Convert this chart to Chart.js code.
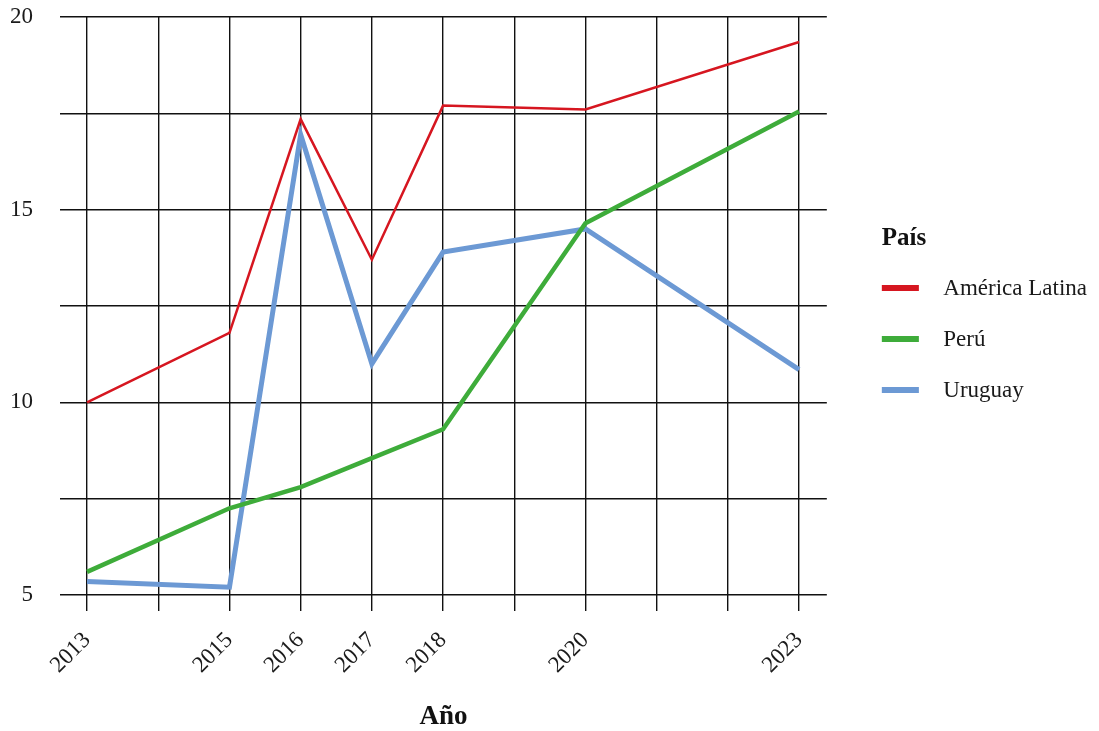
<!DOCTYPE html>
<html>
<head>
<meta charset="utf-8">
<script src="https://cdn.jsdelivr.net/npm/chart.js@4/dist/chart.umd.min.js"></script>
<style>
  html, body { margin: 0; padding: 0; background: #fff; }
  #wrap { width: 1099px; height: 731px; }
</style>
</head>
<body>
<div id="wrap"><canvas id="lineChart"></canvas></div>
<script>
const years = [2013, 2015, 2016, 2017, 2018, 2020, 2023];
const americaLatina = [10.0, 11.8, 17.35, 13.7, 17.7, 17.6, 19.35];
const peru = [5.6, 7.25, 7.8, 8.55, 9.3, 14.65, 17.55];
const uruguay = [5.35, 5.2, 16.95, 11.0, 13.9, 14.5, 10.85];
const seriesNames = ['América Latina', 'Perú', 'Uruguay'];
const yTickLabels = [5, 10, 15, 20];

const colors = ['rgb(214, 22, 32)', 'rgb(62, 172, 58)', 'rgb(108, 153, 212)'];
const widths = [2.5, 4.5, 5];
const serif = "'Liberation Serif', 'DejaVu Serif', serif";

// legend swatch: wider than the point slot so the bar starts under the title
function swatch(color) {
    const c = document.createElement('canvas');
    c.width = 80;
    c.height = 6;
    const g = c.getContext('2d');
    g.fillStyle = color;
    g.fillRect(0, 0, 38, 6);
    return c;
}

document.addEventListener('DOMContentLoaded', () => {
    const ctx = document.getElementById('lineChart').getContext('2d');
    const values = [americaLatina, peru, uruguay];

    new Chart(ctx, {
        type: 'line',
        data: {
            datasets: seriesNames.map((name, i) => ({
                label: name,
                data: years.map((yr, j) => ({ x: yr, y: values[i][j] })),
                borderColor: colors[i],
                backgroundColor: colors[i],
                borderWidth: widths[i],
                pointRadius: 0,
                tension: 0,
                fill: false
            }))
        },
        options: {
            responsive: true,
            maintainAspectRatio: false,
            animation: false,
            layout: { padding: { left: 10, top: 17, right: 2, bottom: 0 } },
            scales: {
                x: {
                    type: 'linear',
                    min: 2012.62,
                    max: 2023.39,
                    afterBuildTicks: (axis) => {
                        const t = [];
                        for (let v = 2013; v <= 2023; v++) t.push({ value: v });
                        axis.ticks = t;
                    },
                    afterFit: (axis) => { axis.paddingLeft = 0; axis.paddingRight = 0; },
                    grid: { color: '#111', lineWidth: 1.4, tickLength: 16 },
                    border: { display: false },
                    ticks: {
                        autoSkip: false,
                        minRotation: 45,
                        maxRotation: 45,
                        padding: 16,
                        color: '#1a1a1a',
                        font: { family: serif, size: 23 },
                        callback: (v) => years.includes(v) ? String(v) : ''
                    },
                    title: {
                        display: true,
                        text: 'Año',
                        color: '#111',
                        padding: { top: 9, bottom: 0 },
                        font: { family: serif, size: 27, weight: 'bold', lineHeight: 1 }
                    }
                },
                y: {
                    min: 5,
                    max: 20,
                    afterBuildTicks: (axis) => {
                        const t = [];
                        for (let v = 5; v <= 20; v += 2.5) t.push({ value: v });
                        axis.ticks = t;
                    },
                    afterFit: (axis) => { axis.width = 50; axis.paddingTop = 0; axis.paddingBottom = 0; },
                    grid: { color: '#111', lineWidth: 1.4, drawTicks: false },
                    border: { display: false },
                    ticks: {
                        padding: 27,
                        color: '#1a1a1a',
                        font: { family: serif, size: 23 },
                        callback: (v) => yTickLabels.includes(v) ? String(v) : ''
                    }
                },
                // empty axis used only as a gap between plot and legend
                gap: {
                    type: 'linear',
                    position: 'right',
                    grid: { display: false },
                    border: { display: false },
                    ticks: { display: false },
                    afterFit: (axis) => { axis.width = 55; }
                }
            },
            plugins: {
                legend: {
                    position: 'right',
                    fullSize: false,
                    align: 'center',
                    maxWidth: 219,
                    title: {
                        display: true,
                        text: 'País',
                        position: 'start',
                        color: '#111',
                        padding: { top: 44, bottom: -2 },
                        font: { family: serif, size: 25, weight: 'bold', lineHeight: 1 }
                    },
                    labels: {
                        usePointStyle: true,
                        pointStyleWidth: 22,
                        padding: 28,
                        color: '#1a1a1a',
                        font: { family: serif, size: 23 },
                        generateLabels: (chart) => chart.data.datasets.map((ds, i) => ({
                            text: ds.label,
                            pointStyle: swatch(colors[i]),
                            fillStyle: colors[i],
                            strokeStyle: colors[i],
                            lineWidth: 0,
                            fontColor: '#1a1a1a',
                            hidden: false,
                            datasetIndex: i
                        }))
                    }
                },
                tooltip: { enabled: false }
            }
        }
    });
});
</script>
</body>
</html>
